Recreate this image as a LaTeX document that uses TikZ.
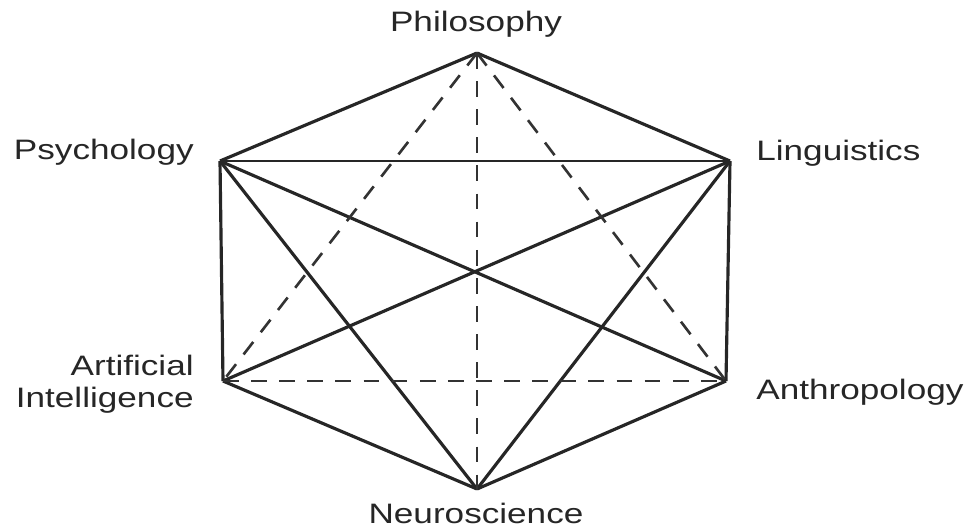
\documentclass[tikz,border=0pt]{standalone}
\usepackage{fontspec}
\setmainfont[FakeStretch=1.25]{Liberation Sans}
\usetikzlibrary{positioning}

\begin{document}
\begin{tikzpicture}[x=0.02cm,y=-0.02cm,font=\fontsize{16}{18}\selectfont,
    lbl/.style={inner sep=0pt,text=black!85},
    link/.style={line width=1.8pt,line join=round,black!85},
    dlink/.style={line width=1.5pt,black!80,dash pattern=on 9pt off 7pt}]
  \useasboundingbox (0,0) rectangle (971,529);
  \coordinate (phil) at (477,53);   \coordinate (psy) at (220,161);  \coordinate (ling) at (730,161);
  \coordinate (ai) at (223,381);    \coordinate (anth) at (726,381); \coordinate (neuro) at (477,489);
  \node[lbl] (philL) at (476,24) {Philosophy};
  \node[lbl,anchor=east] (psyL) at (194,152) {Psychology};
  \node[lbl,anchor=west] (lingL) at (756,153) {Linguistics};
  \node[lbl,anchor=east,align=right] (aiL) at (194,384) {Artificial\\Intelligence};
  \node[lbl,anchor=west] (anthL) at (756,392) {Anthropology};
  \node[lbl] (neuroL) at (476,513) {Neuroscience};
  \foreach \a/\b in {phil/psy,phil/ling,psy/ai,ling/anth,ai/neuro,anth/neuro,psy/neuro,psy/anth,ling/ai,ling/neuro}
    \draw[link] (\a) -- (\b);
  \draw[link,line width=1.3pt] (psy) -- (ling);
  \foreach \b in {ai,neuro,anth} \draw[dlink] (phil) -- (\b);
  \draw[dlink] (ai) -- (anth);
\end{tikzpicture}
\end{document}
